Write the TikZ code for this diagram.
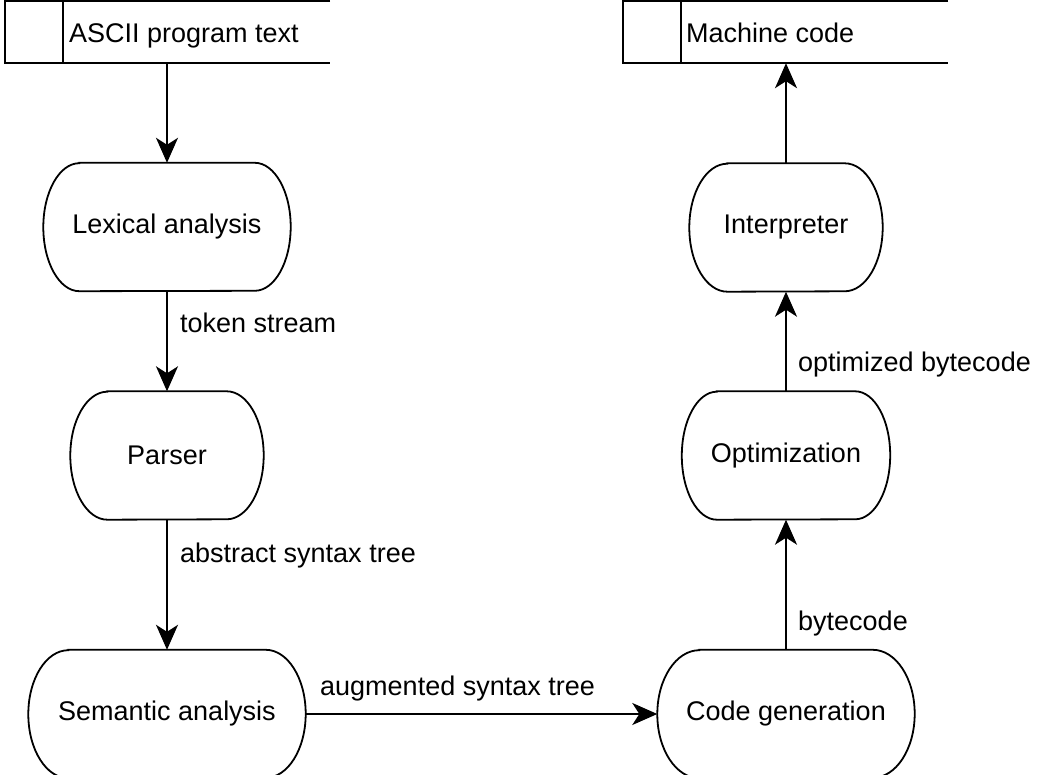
\documentclass[tikz,border=0pt]{standalone}
\usepackage{fontspec}
\setmainfont{Liberation Sans}
\usetikzlibrary{arrows.meta,calc}
\newcommand{\procoutline}[2]{%
  \draw[boxline] ($(#1.north west)+(#2,0)$) -- ($(#1.north east)+(-#2,0)$)
    arc[start angle=90,end angle=-90,x radius=#2,y radius=64]
    -- ($(#1.south west)+(#2,0)$)
    arc[start angle=270,end angle=90,x radius=#2,y radius=64] -- cycle;}
\newcommand{\storeoutline}[1]{%
  \draw[boxline] (#1.north east) -- (#1.north west) -- (#1.south west) -- (#1.south east);
  \draw[boxline] ($(#1.north west)+(58,0)$) -- ($(#1.south west)+(58,0)$);}
\begin{document}
\begin{tikzpicture}[x=1pt,y=1pt,
  every node/.style={font=\fontsize{27}{32}\selectfont},
  boxline/.style={line width=1.8pt},
  proc/.style={draw=none, minimum height=128pt, inner sep=0pt},
  store/.style={draw=none, minimum height=62pt, minimum width=325pt, inner sep=0pt},
  arr/.style={line width=1.8pt,-{Stealth[length=25pt,width=22pt,inset=7pt]}},
  lbl/.style={anchor=base west, inner sep=0pt}]
\useasboundingbox (0,0) rectangle (1037,-775);
\clip (0,0) rectangle (1037,-775);

% data stores
\node[store] (ascii) at (167.5,-32) {};
\node[store] (mc) at (785.5,-32) {};
\storeoutline{ascii}
\storeoutline{mc}
\node[lbl] (asciitext) at (69,-43) {ASCII program text};
\node[lbl] (mctext) at (686,-43) {Machine code};

% processes
\node[proc, minimum width=247pt] (lex) at (167,-227) {Lexical analysis};
\node[proc, minimum width=193pt] (parser) at (167,-455.5) {Parser};
\node[proc, minimum width=277pt] (sem) at (167,-714) {Semantic analysis};
\node[proc, minimum width=257pt] (cg) at (786,-714) {Code generation};
\node[proc, minimum width=208pt] (opt) at (786,-455.5) {Optimization};
\node[proc, minimum width=193pt] (interp) at (786,-227.5) {Interpreter};
\procoutline{lex}{36}
\procoutline{parser}{37}
\procoutline{sem}{40}
\procoutline{cg}{42}
\procoutline{opt}{35}
\procoutline{interp}{38}

% connectors
\draw[arr] (ascii.south -| lex.north) -- (lex.north);
\draw[arr] (lex.south) -- (parser.north);
\draw[arr] (parser.south) -- (sem.north);
\draw[arr] (sem.east) -- (cg.west);
\draw[arr] (cg.north) -- (opt.south);
\draw[arr] (opt.north) -- (interp.south);
\draw[arr] (interp.north) -- (interp.north |- mc.south);

% labels
\node[lbl] (l1) at (180,-333) {token stream};
\node[lbl] (l2) at (180,-562) {abstract syntax tree};
\node[lbl] (l3) at (320,-695) {augmented syntax tree};
\node[lbl] (l4) at (798,-372) {optimized bytecode};
\node[lbl] (l5) at (798,-630) {bytecode};
\end{tikzpicture}
\end{document}
